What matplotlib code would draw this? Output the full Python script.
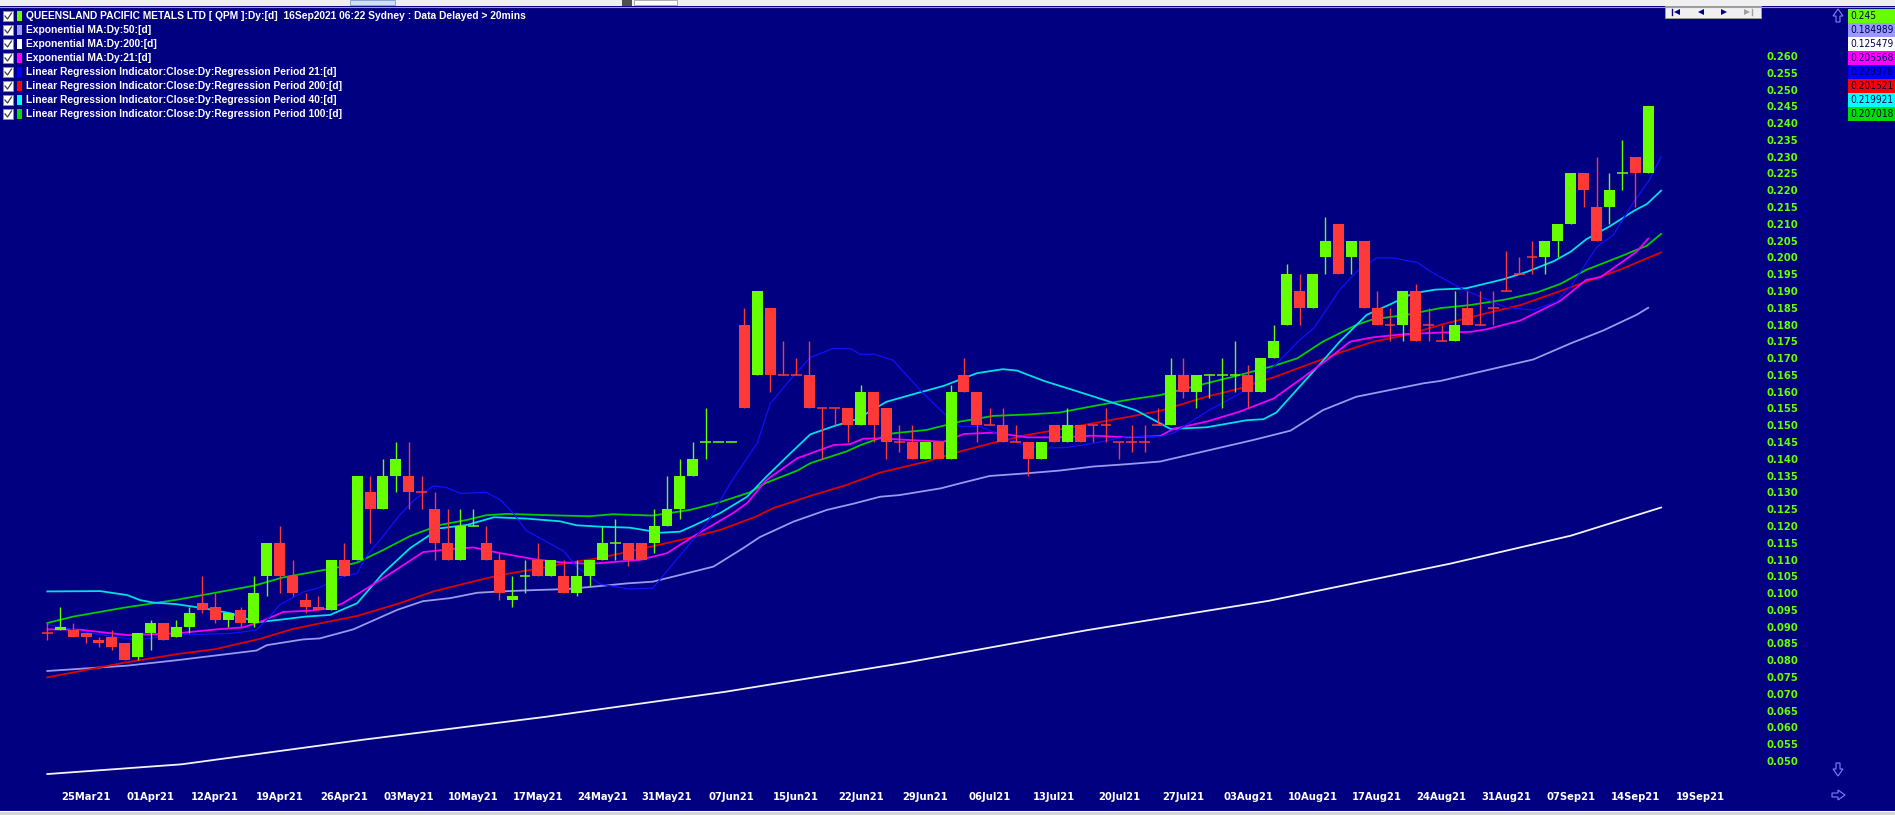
import matplotlib
matplotlib.use('Agg')
import matplotlib.pyplot as plt
from matplotlib import font_manager
from matplotlib.patches import Rectangle, Polygon
from matplotlib.lines import Line2D
import numpy as np

# daily candles, 22 Mar 2021 .. 15 Sep 2021 (bar index = trading day)
opens = [0.088, 0.089, 0.089, 0.088, 0.086, 0.087, 0.085, 0.081, 0.088, 0.091,
         0.087, 0.090, 0.097, 0.096, 0.092, 0.095, 0.091, 0.105, 0.115, 0.105,
         0.098, 0.096, 0.095, 0.110, 0.110, 0.130, 0.125, 0.135, 0.135, 0.130,
         0.125, 0.115, 0.110, 0.120, 0.115, 0.110, 0.098, 0.105, 0.110, 0.105,
         0.105, 0.100, 0.105, 0.110, 0.115, 0.115, 0.115, 0.115, 0.120, 0.125,
         0.135, 0.145, 0.145, 0.145, 0.180, 0.165, 0.185, 0.165, 0.165, 0.165,
         0.155, 0.155, 0.155, 0.150, 0.160, 0.155, 0.145, 0.145, 0.140, 0.145,
         0.140, 0.165, 0.160, 0.150, 0.150, 0.145, 0.145, 0.140, 0.150, 0.145,
         0.150, 0.150, 0.150, 0.145, 0.145, 0.145, 0.150, 0.150, 0.165, 0.160,
         0.165, 0.165, 0.165, 0.165, 0.160, 0.170, 0.180, 0.190, 0.185, 0.200,
         0.210, 0.200, 0.205, 0.185, 0.180, 0.180, 0.190, 0.180, 0.175, 0.175,
         0.185, 0.180, 0.185, 0.190, 0.195, 0.200, 0.200, 0.205, 0.210, 0.225,
         0.215, 0.215, 0.225, 0.230, 0.225]
highs = [0.091, 0.096, 0.091, 0.088, 0.087, 0.089, 0.085, 0.088, 0.092, 0.091,
         0.092, 0.096, 0.105, 0.100, 0.094, 0.096, 0.105, 0.115, 0.120, 0.110,
         0.100, 0.099, 0.110, 0.115, 0.135, 0.135, 0.140, 0.145, 0.145, 0.135,
         0.130, 0.125, 0.125, 0.125, 0.120, 0.112, 0.105, 0.110, 0.115, 0.110,
         0.110, 0.110, 0.110, 0.120, 0.122, 0.115, 0.115, 0.125, 0.135, 0.140,
         0.145, 0.155, 0.145, 0.145, 0.185, 0.190, 0.185, 0.175, 0.170, 0.175,
         0.155, 0.155, 0.155, 0.162, 0.160, 0.155, 0.150, 0.150, 0.145, 0.145,
         0.162, 0.170, 0.160, 0.155, 0.155, 0.150, 0.145, 0.145, 0.150, 0.155,
         0.150, 0.150, 0.155, 0.145, 0.150, 0.150, 0.155, 0.170, 0.170, 0.165,
         0.165, 0.170, 0.175, 0.168, 0.170, 0.180, 0.198, 0.195, 0.195, 0.212,
         0.210, 0.205, 0.205, 0.190, 0.185, 0.190, 0.192, 0.185, 0.180, 0.190,
         0.190, 0.190, 0.190, 0.202, 0.200, 0.205, 0.205, 0.210, 0.225, 0.225,
         0.230, 0.225, 0.235, 0.230, 0.245]
lows = [0.086, 0.089, 0.087, 0.085, 0.084, 0.083, 0.080, 0.080, 0.083, 0.086,
        0.087, 0.088, 0.094, 0.091, 0.090, 0.090, 0.090, 0.099, 0.100, 0.099,
        0.094, 0.095, 0.095, 0.105, 0.110, 0.115, 0.125, 0.130, 0.125, 0.125,
        0.110, 0.110, 0.110, 0.120, 0.110, 0.098, 0.096, 0.100, 0.105, 0.105,
        0.100, 0.099, 0.102, 0.110, 0.110, 0.108, 0.110, 0.112, 0.120, 0.122,
        0.135, 0.140, 0.145, 0.145, 0.155, 0.165, 0.160, 0.165, 0.165, 0.155,
        0.140, 0.150, 0.145, 0.150, 0.145, 0.140, 0.142, 0.140, 0.140, 0.140,
        0.140, 0.160, 0.145, 0.150, 0.145, 0.145, 0.135, 0.140, 0.145, 0.145,
        0.145, 0.145, 0.145, 0.140, 0.142, 0.142, 0.150, 0.150, 0.158, 0.155,
        0.158, 0.155, 0.160, 0.155, 0.160, 0.170, 0.180, 0.180, 0.185, 0.195,
        0.195, 0.195, 0.185, 0.180, 0.175, 0.175, 0.175, 0.175, 0.175, 0.175,
        0.180, 0.180, 0.180, 0.190, 0.195, 0.195, 0.195, 0.200, 0.210, 0.215,
        0.205, 0.210, 0.220, 0.215, 0.225]
closes = [0.088, 0.090, 0.087, 0.087, 0.085, 0.084, 0.080, 0.088, 0.091, 0.086,
          0.090, 0.094, 0.095, 0.092, 0.094, 0.091, 0.100, 0.115, 0.105, 0.100,
          0.096, 0.095, 0.110, 0.105, 0.135, 0.125, 0.135, 0.140, 0.130, 0.130,
          0.115, 0.110, 0.120, 0.120, 0.110, 0.100, 0.099, 0.105, 0.105, 0.110,
          0.100, 0.105, 0.110, 0.115, 0.115, 0.110, 0.110, 0.120, 0.125, 0.135,
          0.140, 0.145, 0.145, 0.145, 0.155, 0.190, 0.165, 0.165, 0.165, 0.155,
          0.155, 0.155, 0.150, 0.160, 0.150, 0.145, 0.145, 0.140, 0.145, 0.140,
          0.160, 0.160, 0.150, 0.150, 0.145, 0.145, 0.140, 0.145, 0.145, 0.150,
          0.145, 0.150, 0.150, 0.145, 0.145, 0.145, 0.150, 0.165, 0.160, 0.165,
          0.165, 0.165, 0.165, 0.160, 0.170, 0.175, 0.195, 0.185, 0.195, 0.205,
          0.195, 0.205, 0.185, 0.180, 0.180, 0.190, 0.175, 0.180, 0.175, 0.180,
          0.180, 0.180, 0.185, 0.190, 0.195, 0.200, 0.205, 0.210, 0.225, 0.220,
          0.205, 0.220, 0.225, 0.225, 0.245]
# unchanged bars that the chart paints green
green_doji = [33, 37, 44, 51, 52, 53, 90, 91, 92, 122]

date_labels = ['25Mar21', '01Apr21', '12Apr21', '19Apr21', '26Apr21', '03May21', '10May21',
               '17May21', '24May21', '31May21', '07Jun21', '15Jun21', '22Jun21', '29Jun21',
               '06Jul21', '13Jul21', '20Jul21', '27Jul21', '03Aug21', '10Aug21', '17Aug21',
               '24Aug21', '31Aug21', '07Sep21', '14Sep21', '19Sep21']
label_bars = [3, 8, 13, 18, 23, 28, 33, 38, 43, 48, 53, 58, 63, 68, 73, 78, 83, 88,
              93, 98, 103, 108, 113, 118, 123, 128]

# indicator lines (bar index, price)
ema50_x = [0, 6.2, 10, 16.2, 17, 19.8, 21.1, 23.7, 27.1, 29.1, 31.2, 33.3, 35.1, 37.7, 40.2,
           42.8, 44.9, 46.9, 49, 51.6, 53.9, 55.2, 57.8, 60.4, 62.4, 64.5, 66, 69.2, 70.7, 73,
           75.9, 78.4, 81, 83.6, 86.2, 93.4, 96.3, 98.8, 101.4, 104, 106.6, 107.9, 115.1, 118,
           120.5, 123.1, 124]
ema50_y = [0.0768, 0.0784, 0.0800, 0.0829, 0.0845, 0.0862, 0.0865, 0.0892, 0.0950, 0.0976,
           0.0985, 0.1001, 0.1005, 0.1009, 0.1012, 0.1021, 0.1029, 0.1034, 0.1054, 0.1079,
           0.1134, 0.1167, 0.1213, 0.1248, 0.1266, 0.1287, 0.1292, 0.1312, 0.1327, 0.1349,
           0.1357, 0.1365, 0.1377, 0.1384, 0.1392, 0.1456, 0.1484, 0.1545, 0.1585, 0.1605,
           0.1625, 0.1632, 0.1696, 0.1744, 0.1782, 0.1829, 0.1850]

ema200_x = [0, 10.4, 24.4, 38.5, 52.5, 66.5, 80.6, 94.6, 108.7, 118, 125]
ema200_y = [0.0461, 0.0490, 0.0563, 0.0631, 0.0706, 0.0793, 0.0890, 0.0977, 0.1088, 0.1171, 0.1255]

ema21_x = [0, 2.5, 6.2, 10, 13.1, 15.2, 16.7, 18.3, 20.5, 21.9, 22.9, 24.2, 26, 27.8, 29.1,
           31.2, 33, 35.1, 37.7, 39.7, 42, 45.9, 48, 50, 53.1, 54.2, 55.7, 58.1, 60.9, 62.2,
           63.2, 64.5, 66.8, 69.4, 71, 73.3, 75.9, 78.4, 81, 83.6, 86.2, 87.2, 89.8, 92.4, 95,
           97, 99.1, 100.9, 102.7, 105.3, 107.9, 110.2, 111.5, 114.1, 117.2, 119.2, 120.3,
           123.1, 124]
ema21_y = [0.0892, 0.0891, 0.0875, 0.0880, 0.0892, 0.0898, 0.0918, 0.0944, 0.0948, 0.0955,
           0.0970, 0.1001, 0.1044, 0.1089, 0.1122, 0.1131, 0.1136, 0.1119, 0.1101, 0.1092,
           0.1087, 0.1099, 0.1119, 0.1168, 0.1238, 0.1268, 0.1337, 0.1402, 0.1441, 0.1444,
           0.1460, 0.1461, 0.1456, 0.1451, 0.1474, 0.1478, 0.1464, 0.1464, 0.1469, 0.1464,
           0.1468, 0.1489, 0.1511, 0.1541, 0.1580, 0.1635, 0.1694, 0.1749, 0.1762, 0.1772,
           0.1776, 0.1778, 0.1786, 0.1812, 0.1871, 0.1933, 0.1941, 0.2017, 0.2056]

lr21_x = [0, 3, 6.2, 7.4, 10, 14.2, 16.2, 17, 18, 19.8, 21.1, 22.9, 24, 24.7, 26, 27.3, 28.4,
          29.9, 30.9, 32, 34, 35.1, 36.1, 37.1, 38.2, 40, 41, 42.8, 45.1, 46.9, 48.5, 51.1,
          52.9, 55, 56, 57.3, 59.1, 60.9, 62.2, 63, 64, 65.5, 67.6, 69.7, 70.7, 72.3, 73.8,
          75.9, 77.4, 79, 81, 83.6, 86.2, 87.2, 89.8, 92.4, 95, 97, 98.1, 100.1, 101.4, 103,
          104.3, 106.1, 107.4, 109.7, 113, 115.1, 116.9, 118, 120, 121.3, 122.9, 124.1, 125]
lr21_y = [0.0907, 0.0883, 0.0864, 0.0863, 0.0875, 0.0880, 0.0890, 0.0920, 0.0965, 0.1003,
          0.1017, 0.1049, 0.1059, 0.1109, 0.1169, 0.1233, 0.1277, 0.1319, 0.1315, 0.1297,
          0.1300, 0.1277, 0.1238, 0.1186, 0.1163, 0.1125, 0.1079, 0.1027, 0.1012, 0.1015,
          0.1089, 0.1208, 0.1327, 0.1448, 0.1565, 0.1625, 0.1702, 0.1729, 0.1728, 0.1711,
          0.1712, 0.1694, 0.1605, 0.1526, 0.1497, 0.1496, 0.1471, 0.1437, 0.1432, 0.1434,
          0.1446, 0.1466, 0.1466, 0.1476, 0.1541, 0.1595, 0.1675, 0.1754, 0.1789, 0.1903,
          0.1957, 0.1999, 0.1998, 0.1985, 0.1952, 0.1904, 0.1851, 0.1843, 0.1868, 0.1913,
          0.2030, 0.2067, 0.2166, 0.2231, 0.2300]

lr200_x = [0, 6, 10, 13, 16.5, 19, 21, 24, 27.3, 29.9, 32.5, 35.1, 37.7, 40.2, 42.8, 45.1, 49,
           52.1, 54.9, 56.2, 59.3, 61.9, 64.5, 68.1, 70.7, 73.3, 75.9, 78.4, 81, 83.6, 86.2,
           89.8, 92.4, 95, 97.6, 100.1, 102.7, 105.3, 107.9, 111.5, 114.1, 116.7, 119.2, 121.8,
           125]
lr200_y = [0.0749, 0.0793, 0.0818, 0.0833, 0.0864, 0.0893, 0.0909, 0.0932, 0.0970, 0.1005,
           0.1030, 0.1054, 0.1071, 0.1089, 0.1105, 0.1124, 0.1158, 0.1188, 0.1228, 0.1253,
           0.1292, 0.1322, 0.1359, 0.1392, 0.1422, 0.1448, 0.1471, 0.1488, 0.1506, 0.1524,
           0.1543, 0.1585, 0.1610, 0.1643, 0.1680, 0.1716, 0.1749, 0.1769, 0.1799, 0.1834,
           0.1858, 0.1893, 0.1928, 0.1963, 0.2015]

lr40_x = [0, 4.1, 6.2, 7.2, 8.2, 10, 12.1, 14.2, 16.2, 18.3, 20, 21.9, 24, 26, 28.1, 30.4,
          32.5, 34.6, 37.1, 39.7, 41, 42.8, 45.1, 47.5, 49, 50, 52.1, 54.2, 55.7, 57.3, 59.1,
          60.9, 62.7, 65, 67.3, 69.4, 72, 74, 75.1, 77.2, 79.7, 82.3, 84.3, 87, 89.8, 92.9,
          94.2, 95.2, 97, 98.6, 100.1, 102.2, 104, 105.8, 107.5, 109.9, 112.8, 114.6, 116.7,
          118, 119.2, 121, 122.9, 123.9, 125]
lr40_y = [0.1005, 0.1006, 0.0994, 0.0979, 0.0972, 0.0967, 0.0955, 0.0940, 0.0913, 0.0922,
          0.0930, 0.0935, 0.0970, 0.1059, 0.1134, 0.1193, 0.1203, 0.1226, 0.1222, 0.1214,
          0.1202, 0.1198, 0.1195, 0.1180, 0.1183, 0.1200, 0.1238, 0.1287, 0.1347, 0.1407,
          0.1473, 0.1497, 0.1518, 0.1570, 0.1595, 0.1617, 0.1655, 0.1667, 0.1663, 0.1632,
          0.1602, 0.1570, 0.1545, 0.1489, 0.1494, 0.1515, 0.1518, 0.1538, 0.1615, 0.1683,
          0.1749, 0.1829, 0.1860, 0.1893, 0.1904, 0.1908, 0.1935, 0.1957, 0.1989, 0.2017,
          0.2054, 0.2092, 0.2139, 0.2159, 0.2199]

lr100_x = [0, 2, 6, 10, 13, 16, 18.3, 21, 22.2, 24, 26, 28.1, 30.4, 32.5, 34, 35.6, 38.9, 42,
           43.8, 46.9, 49.8, 52.1, 54.4, 55.7, 58.1, 59.1, 61.9, 63, 65.5, 68.1, 70.7, 73.3,
           75.9, 78.4, 81, 83.6, 86.2, 89.8, 92.4, 95, 96.8, 98.8, 101.4, 102.7, 105.3, 107.9,
           110.2, 113, 115.4, 117.2, 119.2, 121.8, 123.9, 125]
lr100_y = [0.0911, 0.0930, 0.0957, 0.0980, 0.1001, 0.1022, 0.1047, 0.1066, 0.1074, 0.1091,
           0.1128, 0.1170, 0.1203, 0.1218, 0.1232, 0.1236, 0.1232, 0.1229, 0.1235, 0.1231,
           0.1248, 0.1271, 0.1300, 0.1329, 0.1365, 0.1387, 0.1422, 0.1441, 0.1476, 0.1486,
           0.1511, 0.1528, 0.1532, 0.1538, 0.1557, 0.1575, 0.1590, 0.1625, 0.1650, 0.1677,
           0.1699, 0.1749, 0.1799, 0.1816, 0.1829, 0.1849, 0.1858, 0.1875, 0.1896, 0.1921,
           0.1963, 0.2002, 0.2035, 0.2070]

legend_names = ['QUEENSLAND PACIFIC METALS LTD [ QPM ]:Dy:[d]  16Sep2021 06:22 Sydney : Data Delayed > 20mins',
                'Exponential MA:Dy:50:[d]',
                'Exponential MA:Dy:200:[d]',
                'Exponential MA:Dy:21:[d]',
                'Linear Regression Indicator:Close:Dy:Regression Period 21:[d]',
                'Linear Regression Indicator:Close:Dy:Regression Period 200:[d]',
                'Linear Regression Indicator:Close:Dy:Regression Period 40:[d]',
                'Linear Regression Indicator:Close:Dy:Regression Period 100:[d]']
legend_colors = ['#66ff00', '#9999ff', '#ffffff', '#ff00ff', '#0000ff', '#ff0000', '#00ffff', '#00dd00']
last_values = ['0.245', '0.184989', '0.125479', '0.205568', '0.229978', '0.201521', '0.219921', '0.207018']

NAVY = '#000080'
UP = '#66ff00'
DOWN = '#ff3838'
W, H = 1895, 815

# a narrow face if one is installed, otherwise plain Liberation Sans a bit smaller
fonts = font_manager.fontManager.ttflist
if any(f.name == 'Liberation Sans Narrow' for f in fonts):
    axis_font, axis_stretch, axis_size, box_size = 'Liberation Sans Narrow', 'normal', 9, 9
elif any(f.name == 'DejaVu Sans' and 'Condensed' in f.fname for f in fonts):
    axis_font, axis_stretch, axis_size, box_size = 'DejaVu Sans', 'condensed', 8, 7.3
else:
    axis_font, axis_stretch, axis_size, box_size = 'Liberation Sans', 'normal', 8, 7.3


def fx(x):
    return x / W


def fy(y):
    return 1 - y / H


fig = plt.figure(figsize=(W / 100, H / 100), dpi=100, facecolor=NAVY)
ax = fig.add_axes([0, 30 / H, 1760 / W, 779 / H])
ax.set_facecolor(NAVY)
ax.set_xlim(-3.664, 132.66)
ax.set_ylim(0.04284, 0.27489)
for s in ax.spines.values():
    s.set_visible(False)

# indicator lines
ax.plot(ema200_x, ema200_y, color='#f4f4f4', lw=1.3, zorder=2)
ax.plot(ema50_x, ema50_y, color='#9999ee', lw=1.3, zorder=2)
ax.plot(lr200_x, lr200_y, color='#e00000', lw=1.3, zorder=2)
ax.plot(lr100_x, lr100_y, color='#00cc00', lw=1.3, zorder=2)
ax.plot(lr40_x, lr40_y, color='#00e0e0', lw=1.3, zorder=2)
ax.plot(ema21_x, ema21_y, color='#f000f0', lw=1.3, zorder=2)
ax.plot(lr21_x, lr21_y, color='#1010ff', lw=0.9, zorder=2)

# candles
o, h, l, c = (np.array(v) for v in (opens, highs, lows, closes))
idx = np.arange(len(o))
doji = c == o
cols = np.where(c > o, UP, DOWN)
cols[green_doji] = UP
ax.vlines(idx, l, h, colors=cols, lw=1.0, zorder=4)
body_lo = np.minimum(o, c)
body_h = np.abs(c - o)
ax.bar(idx[~doji], body_h[~doji], bottom=body_lo[~doji], width=0.85,
       color=cols[~doji], linewidth=0, zorder=5)
ax.hlines(o[doji], idx[doji] - 0.42, idx[doji] + 0.42, colors=cols[doji], lw=1.1, zorder=5)

# axes ticks
yt = np.arange(0.050, 0.2601, 0.005)
ax.set_yticks(yt)
ax.set_yticklabels([f'{v:.3f}' for v in yt])
ax.yaxis.tick_right()
ax.tick_params(axis='y', length=0, pad=5, labelcolor=UP, labelsize=axis_size)
ax.set_xticks(label_bars)
ax.set_xticklabels(date_labels)
ax.tick_params(axis='x', length=0, pad=5.2, labelcolor='white', labelsize=axis_size)
for lab in ax.get_xticklabels() + ax.get_yticklabels():
    lab.set_family(axis_font)
    lab.set_fontstretch(axis_stretch)
    lab.set_fontweight('bold')

# window chrome: top strip and bottom strip
fig.add_artist(Rectangle((0, fy(6)), 1, 6 / H, transform=fig.transFigure,
                         facecolor='#f0f0f0', edgecolor='none'))
fig.add_artist(Line2D([0, 1], [fy(6.5), fy(6.5)], transform=fig.transFigure, color='#a0a0a0', lw=0.8))
fig.add_artist(Rectangle((fx(350), fy(5)), 45 / W, 5 / H, transform=fig.transFigure,
                         facecolor='#cfe0f4', edgecolor='#7f9db9', lw=0.6))
fig.add_artist(Rectangle((fx(622), fy(6)), 10 / W, 6 / H, transform=fig.transFigure,
                         facecolor='#505050', edgecolor='none'))
fig.add_artist(Rectangle((fx(634), fy(5)), 43 / W, 5 / H, transform=fig.transFigure,
                         facecolor='white', edgecolor='#a0a0a0', lw=0.6))
fig.add_artist(Rectangle((0, 0), 1, 4 / H, transform=fig.transFigure,
                         facecolor='#d4d4d4', edgecolor='none'))
fig.add_artist(Line2D([0, 1], [fy(811), fy(811)], transform=fig.transFigure, color='white', lw=0.8))

# legend rows
for k, (name, col) in enumerate(zip(legend_names, legend_colors)):
    y = 16 + 14 * k
    fig.add_artist(Rectangle((fx(3), fy(y + 5)), 10 / W, 10 / H, transform=fig.transFigure,
                             facecolor='white', edgecolor='#909090', lw=0.6))
    fig.add_artist(Line2D([fx(5), fx(7.5), fx(11.5)], [fy(y), fy(y + 3), fy(y - 3)],
                          transform=fig.transFigure, color='#404040', lw=0.9))
    fig.add_artist(Rectangle((fx(17), fy(y + 5)), 5 / W, 10 / H, transform=fig.transFigure,
                             facecolor=col, edgecolor='none'))
    fig.text(fx(26), fy(y), name, color='white', fontsize=7.4, fontweight='bold',
             family='Liberation Sans', va='center', ha='left')

# last value boxes
for k, (val, col) in enumerate(zip(last_values, legend_colors)):
    fig.add_artist(Rectangle((fx(1848), fy(23 + 14 * k)), 47 / W, 14 / H, transform=fig.transFigure,
                             facecolor=col, edgecolor='none'))
    fig.text(fx(1850.5), fy(16 + 14 * k), val, color='#000050', fontsize=box_size, family=axis_font,
             fontstretch=axis_stretch, va='center', ha='left')

# navigation buttons
fig.add_artist(Rectangle((fx(1665), fy(18)), 96 / W, 12 / H, transform=fig.transFigure,
                         facecolor='#f0f0f0', edgecolor='#a0a0a0', lw=0.6))
fig.add_artist(Line2D([fx(1672), fx(1672)], [fy(9), fy(15)], transform=fig.transFigure, color=NAVY, lw=1))
for xm, mk, col in [(1677, '<', NAVY), (1701, '<', NAVY), (1724, '>', NAVY), (1747, '>', '#a0a0a0')]:
    fig.add_artist(Line2D([fx(xm)], [fy(12)], transform=fig.transFigure, marker=mk,
                          markersize=5, color=col, markeredgewidth=0))
fig.add_artist(Line2D([fx(1752), fx(1752)], [fy(9), fy(15)], transform=fig.transFigure, color='#a0a0a0', lw=1))

# scroll arrows
cx = 1838
up_arrow = [(cx, 9), (cx + 5, 16), (cx + 2, 16), (cx + 2, 22), (cx - 2, 22), (cx - 2, 16), (cx - 5, 16)]
down_arrow = [(cx, 776), (cx + 5, 769), (cx + 2, 769), (cx + 2, 763), (cx - 2, 763), (cx - 2, 769), (cx - 5, 769)]
right_arrow = [(1845, 795), (1838, 790), (1838, 793), (1832, 793), (1832, 797), (1838, 797), (1838, 800)]
for pts in (up_arrow, down_arrow, right_arrow):
    fig.add_artist(Polygon([(fx(a), fy(b)) for a, b in pts], closed=True, transform=fig.transFigure,
                           facecolor='none', edgecolor='#8080ff', lw=0.8))

fig.savefig('out.png', dpi=100, facecolor=NAVY)
